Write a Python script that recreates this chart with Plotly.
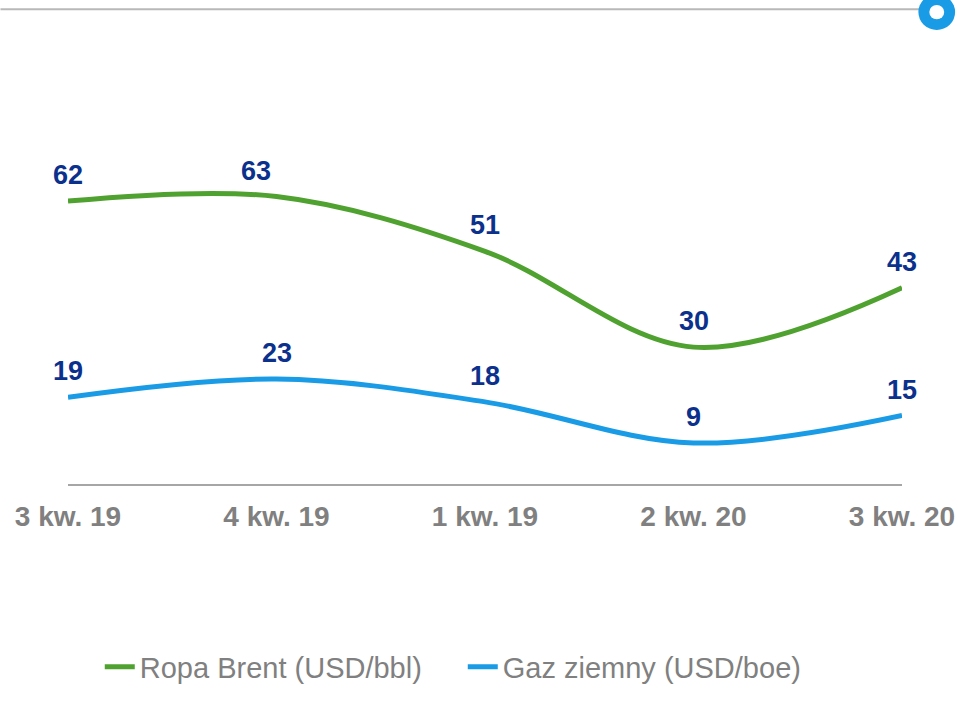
import plotly.graph_objects as go

categories = ["3 kw. 19", "4 kw. 19", "1 kw. 19", "2 kw. 20", "3 kw. 20"]
brent = [62, 63, 51, 30, 43]
gas = [19, 23, 18, 9, 15]
series_names = ["Ropa Brent (USD/bbl)", "Gaz ziemny (USD/boe)"]

GREEN = "#4FA22F"
BLUE = "#1A9BE6"
NAVY = "#0B318C"
GRAY = "#808080"
FONT = "Liberation Sans"

# pixel geometry helpers (plot area: x 68..908, y 119..498)
L, R, T, B = 68, 908, 119, 498
W, H = 967, 704


def px(x):
    return (x - L) / (R - L)


def py(y):
    return (B - y) / (B - T)


xs = list(range(len(categories)))

fig = go.Figure()
fig.add_trace(go.Scatter(x=xs, y=brent, name=series_names[0], mode="lines",
                         line=dict(color=GREEN, width=5, shape="spline", smoothing=1)))
fig.add_trace(go.Scatter(x=xs, y=gas, name=series_names[1], mode="lines",
                         line=dict(color=BLUE, width=5, shape="spline", smoothing=1)))

label_xshift = {(0, 1): -21}
annotations = []
for s, vals in enumerate([brent, gas]):
    for i, v in enumerate(vals):
        annotations.append(dict(
            x=i, y=v, xref="x", yref="y", text=str(v), showarrow=False,
            yshift=26, xshift=label_xshift.get((s, i), 0),
            font=dict(family=FONT, size=27, color=NAVY, weight="bold"),
        ))

shapes = [
    dict(type="line", xref="paper", yref="paper", x0=px(0), x1=px(926), y0=py(5), y1=py(5),
         line=dict(color="#B8B8B8", width=2)),
    dict(type="circle", xref="paper", yref="paper",
         x0=px(943 - 18.5), x1=px(943 + 18.5), y0=py(8 + 18.5), y1=py(8 - 18.5),
         fillcolor=BLUE, line=dict(width=0)),
    dict(type="circle", xref="paper", yref="paper",
         x0=px(943 - 7.5), x1=px(943 + 7.5), y0=py(8 + 7.5), y1=py(8 - 7.5),
         fillcolor="white", line=dict(width=0)),
]

fig.update_layout(
    width=W, height=H,
    margin=dict(l=L, r=W - R, t=T, b=H - B, pad=0),
    paper_bgcolor="white", plot_bgcolor="white",
    showlegend=True,
    legend=dict(orientation="h", x=px(100), xanchor="left", y=py(688), yanchor="middle",
                font=dict(family=FONT, size=29, color=GRAY), itemwidth=30,
                entrywidth=318, entrywidthmode="pixels",
                traceorder="normal"),
    annotations=annotations,
    shapes=shapes,
    xaxis=dict(range=[0, 4], tickmode="array", tickvals=xs, ticktext=categories,
               showgrid=False, zeroline=False, showline=True, linecolor="#A6A6A6", linewidth=2,
               ticks="", ticklabelstandoff=6,
               tickfont=dict(family=FONT, size=28, color=GRAY, weight="bold"),
               fixedrange=True),
    yaxis=dict(range=[0, 80], visible=False, showgrid=False, zeroline=False, fixedrange=True),
)

fig.write_html("out.html", config={"displayModeBar": False},
               post_script="document.body.style.margin='0';document.body.style.overflow='hidden';")
